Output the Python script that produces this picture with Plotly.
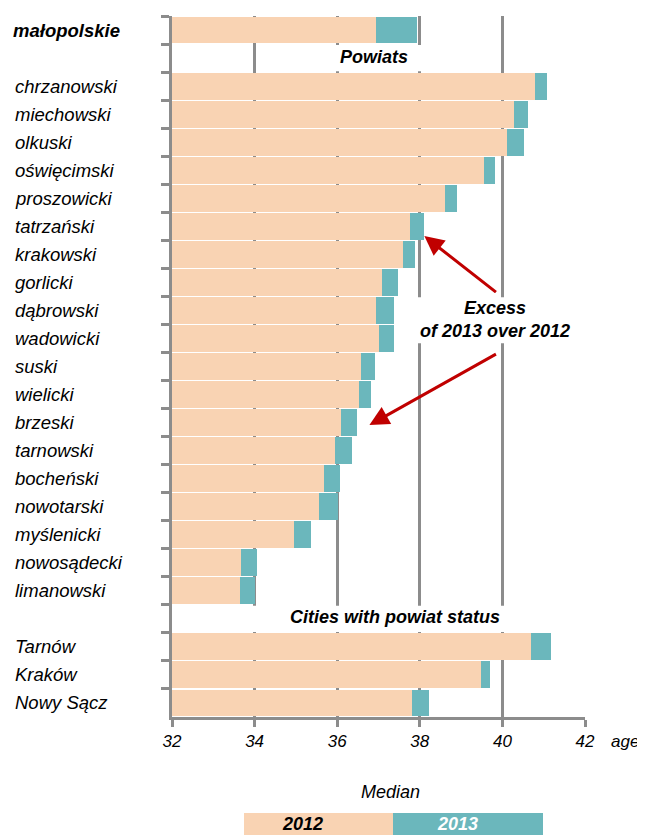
import plotly.graph_objects as go

# ---------------- data ----------------
region = ["małopolskie"]
region_2012 = [36.95]
region_2013 = [37.93]

powiats = ["chrzanowski", "miechowski", "olkuski", "oświęcimski", "proszowicki",
           "tatrzański", "krakowski", "gorlicki", "dąbrowski", "wadowicki",
           "suski", "wielicki", "brzeski", "tarnowski", "bocheński",
           "nowotarski", "myślenicki", "nowosądecki", "limanowski"]
powiats_2012 = [40.79, 40.27, 40.10, 39.55, 38.61, 37.76, 37.59, 37.08, 36.95, 37.00,
                36.57, 36.52, 36.10, 35.94, 35.68, 35.55, 34.95, 33.68, 33.64]
powiats_2013 = [41.08, 40.61, 40.52, 39.81, 38.90, 38.10, 37.89, 37.46, 37.38, 37.38,
                36.91, 36.82, 36.48, 36.35, 36.06, 36.02, 35.37, 34.05, 34.02]

cities = ["Tarnów", "Kraków", "Nowy Sącz"]
cities_2012 = [40.70, 39.47, 37.81]
cities_2013 = [41.17, 39.71, 38.23]

header_powiats = "Powiats"
header_cities = "Cities with powiat status"
xticks = [32, 34, 36, 38, 40, 42]
series_names = ["2012", "2013"]
axis_unit = "age"
legend_title = "Median"
excess_text = "Excess<br>of 2013 over 2012"

# ---------------- build ----------------
rows = region + [header_powiats] + powiats + [header_cities] + cities
bar_names = region + powiats + cities
v2012 = region_2012 + powiats_2012 + cities_2012
v2013 = region_2013 + powiats_2013 + cities_2013
excess = [b - a for a, b in zip(v2012, v2013)]

PEACH = "#F9D3B3"
TEAL = "#6BB7BC"
GRAY = "#8C8C8C"
RED = "#C00000"
FONT = "Liberation Sans, Arial, sans-serif"

fig = go.Figure()
fig.add_trace(go.Bar(y=bar_names, x=v2012, orientation="h", marker_color=PEACH,
                     marker_line_width=0, name=series_names[0], showlegend=False))
fig.add_trace(go.Bar(y=bar_names, x=excess, orientation="h", marker_color=TEAL,
                     marker_line_width=0, name=series_names[1], showlegend=False))

annotations = []
# row labels
for i, name in enumerate(rows):
    if name in (header_powiats, header_cities):
        continue
    bold = name in region
    annotations.append(dict(
        xref="paper", yref="y", x=(11 - 172) / 413 if bold else (13 - 172) / 413, y=i,
        text=name, showarrow=False, xanchor="left", yanchor="middle",
        font=dict(family=FONT, size=18.5, color="black", style="italic",
                  weight="bold" if bold else "normal")))

# section headers
annotations.append(dict(xref="x", yref="y", x=36.9, y=rows.index(header_powiats) - 0.05,
                        text=header_powiats, showarrow=False,
                        font=dict(family=FONT, size=18, color="black", style="italic", weight="bold")))
annotations.append(dict(xref="x", yref="y", x=37.39, y=rows.index(header_cities) - 0.06,
                        text=header_cities, showarrow=False,
                        font=dict(family=FONT, size=18, color="black", style="italic", weight="bold")))

# excess text and arrows
annotations.append(dict(xref="x", yref="y", x=39.81, y=10.31, text=excess_text,
                        showarrow=False, align="center",
                        font=dict(family=FONT, size=18, color="black", style="italic", weight="bold")))
i_tat = rows.index("tatrzański")
i_brz = rows.index("brzeski")
annotations.append(dict(xref="x", yref="y", axref="x", ayref="y",
                        x=38.11, y=i_tat + 0.35, ax=39.88, ay=9.39,
                        showarrow=True, arrowhead=2, arrowsize=1.3, arrowwidth=3,
                        arrowcolor=RED, standoff=0, text=""))
annotations.append(dict(xref="x", yref="y", axref="x", ayref="y",
                        x=36.78, y=i_brz + 0.09, ax=39.88, ay=11.53,
                        showarrow=True, arrowhead=2, arrowsize=1.3, arrowwidth=3,
                        arrowcolor=RED, standoff=0, text=""))

# axis unit
annotations.append(dict(xref="paper", yref="paper", x=(609 - 172) / 413, y=(717 - 741) / 701,
                        text=axis_unit, showarrow=False, xanchor="left", yanchor="middle",
                        font=dict(family=FONT, size=17, color="black", style="italic")))
# legend
annotations.append(dict(xref="paper", yref="paper", x=(390 - 172) / 413, y=(717 - 792) / 701,
                        text=legend_title, showarrow=False, xanchor="center", yanchor="middle",
                        font=dict(family=FONT, size=18, color="black", style="italic")))
annotations.append(dict(xref="paper", yref="paper", x=(302 - 172) / 413, y=(717 - 824) / 701,
                        text=series_names[0], showarrow=False, xanchor="center", yanchor="middle",
                        font=dict(family=FONT, size=18, color="black", style="italic", weight="bold")))
annotations.append(dict(xref="paper", yref="paper", x=(457 - 172) / 413, y=(717 - 824) / 701,
                        text=series_names[1], showarrow=False, xanchor="center", yanchor="middle",
                        font=dict(family=FONT, size=18, color="white", style="italic", weight="bold")))

shapes = [
    # white boxes hiding gridlines behind header texts
    dict(type="rect", xref="x", yref="y", x0=34.3, x1=39.6,
         y0=rows.index(header_powiats) - 0.47, y1=rows.index(header_powiats) + 0.47,
         fillcolor="white", line_width=0, layer="between"),
    dict(type="rect", xref="x", yref="y", x0=33.6, x1=41.0,
         y0=rows.index(header_cities) - 0.47, y1=rows.index(header_cities) + 0.47,
         fillcolor="white", line_width=0, layer="between"),
    dict(type="rect", xref="x", yref="y", x0=37.92, x1=41.85, y0=9.53, y1=11.17,
         fillcolor="white", line_width=0, layer="between"),
    # legend boxes
    dict(type="rect", xref="paper", yref="paper",
         x0=(244 - 172) / 413, x1=(393 - 172) / 413,
         y0=(717 - 836) / 701, y1=(717 - 813) / 701,
         fillcolor=PEACH, line_width=0),
    dict(type="rect", xref="paper", yref="paper",
         x0=(393 - 172) / 413, x1=(543 - 172) / 413,
         y0=(717 - 836) / 701, y1=(717 - 813) / 701,
         fillcolor=TEAL, line_width=0),
]

# the page body has an 8px margin, so the figure is 8px smaller and margins shifted
fig.update_layout(
    width=637, height=827,
    margin=dict(l=164, r=60, t=8, b=118),
    paper_bgcolor="white", plot_bgcolor="white",
    barmode="stack", bargap=0.04,
    showlegend=False,
    annotations=annotations,
    shapes=shapes,
    xaxis=dict(range=[32, 42], tickvals=xticks, ticktext=[str(t) for t in xticks],
               showgrid=True, gridcolor=GRAY, gridwidth=3,
               showline=True, linecolor=GRAY, linewidth=3,
               ticks="outside", ticklen=7, tickwidth=3, tickcolor=GRAY,
               tickfont=dict(family=FONT, size=17, color="black", style="italic"),
               zeroline=False, fixedrange=True),
    yaxis=dict(type="category", categoryorder="array", categoryarray=rows,
               range=[len(rows) - 0.5, -0.5],
               showticklabels=False, showgrid=False,
               showline=True, linecolor=GRAY, linewidth=3,
               ticks="outside", tickson="boundaries", ticklen=8, tickwidth=3, tickcolor=GRAY,
               zeroline=False, fixedrange=True),
)

fig.write_html("out.html")
